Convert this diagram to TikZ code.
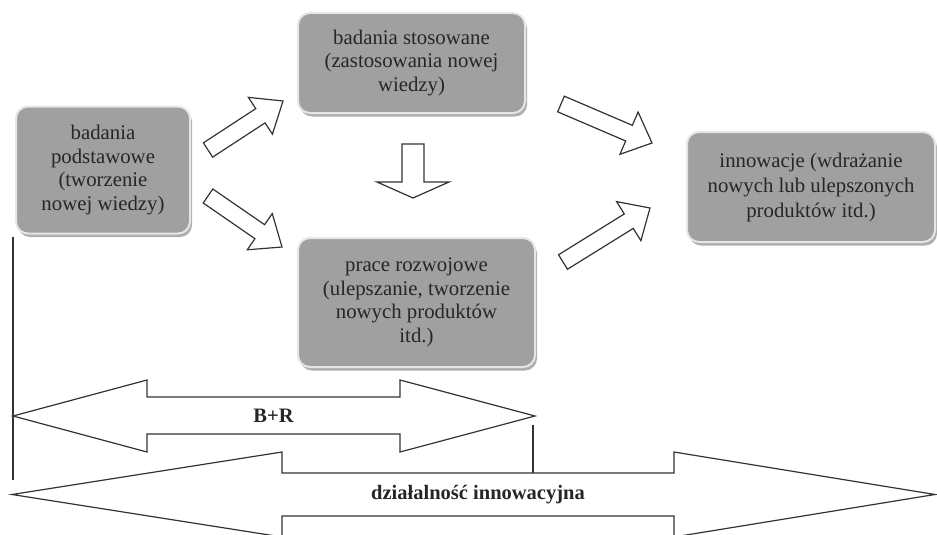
\documentclass[tikz,border=0pt]{standalone}
\usepackage{fontspec}
\setmainfont{Liberation Serif}
\usetikzlibrary{calc,shadows}
\definecolor{boxgray}{HTML}{A0A0A0}
\definecolor{rimgray}{HTML}{E6E6E6}
\definecolor{shadowgray}{HTML}{9A9A9A}
\definecolor{txt}{HTML}{262626}
\definecolor{ln}{HTML}{333333}
\newcommand\blockarrow[5]{% tail, tip, shaft half width, head half width, head length
  \coordinate (ba-c) at ($(#2)!#5!(#1)$);
  \draw[blk] ($(#1)!#3!90:(#2)$) -- ($(ba-c)!#3!90:(#2)$) -- ($(ba-c)!#4!90:(#2)$)
    -- (#2) -- ($(ba-c)!#4!-90:(#2)$) -- ($(ba-c)!#3!-90:(#2)$) -- ($(#1)!#3!-90:(#2)$) -- cycle;}
\begin{document}
\begin{tikzpicture}[x=1pt,y=-1pt,
  box/.style={rounded corners=12pt, fill=boxgray, draw=rimgray, line width=2pt,
    align=center, text=txt, inner sep=0pt,
    drop shadow={shadow xshift=2pt, shadow yshift=-3.5pt, fill=shadowgray, opacity=0.8}},
  boxfont/.style={font=\fontsize{20.8}{23.5}\selectfont},
  blk/.style={draw=ln, line width=1.2pt, fill=white, line join=miter},
  thinline/.style={draw=ln, line width=1.2pt},
  lbl/.style={font=\fontsize{20.5}{22}\selectfont\bfseries, text=txt, inner sep=0pt}]
\useasboundingbox (0,0) rectangle (937,535);

% boxes
\node[box, boxfont, minimum width=174pt, minimum height=127pt] (bp) at (103,170)
  {badania\\podstawowe\\(tworzenie\\nowej wiedzy)};
\node[box, boxfont, minimum width=227pt, minimum height=100pt] (bs) at (411.5,63)
  {badania stosowane\\(zastosowania nowej\\wiedzy)};
\node[box, boxfont, minimum width=237pt, minimum height=129pt] (pr) at (416.5,302.5)
  {prace rozwojowe\\(ulepszanie, tworzenie\\nowych produktów\\itd.)};
\node[box, font=\fontsize{20.8}{25}\selectfont, minimum width=248pt, minimum height=110pt] (in) at (811,187)
  {innowacje (wdrażanie\\nowych lub ulepszonych\\produktów itd.)};

% block arrows between boxes
\coordinate (a1t) at (208,150);  \coordinate (a1h) at (283,101);
\coordinate (a2t) at (208,196);  \coordinate (a2h) at (282,247);
\coordinate (a3t) at (413,144);  \coordinate (a3h) at (413,198);
\coordinate (a4t) at (561,104);  \coordinate (a4h) at (652,143);
\coordinate (a5t) at (563,262);  \coordinate (a5h) at (650,208);
\blockarrow{a1t}{a1h}{8.5pt}{22pt}{27pt}
\blockarrow{a2t}{a2h}{8.5pt}{22pt}{27pt}
\blockarrow{a3t}{a3h}{11pt}{36pt}{16pt}
\blockarrow{a4t}{a4h}{8.5pt}{23pt}{25pt}
\blockarrow{a5t}{a5h}{8.5pt}{23pt}{25pt}

% vertical lines
\coordinate (v1a) at (13,237); \coordinate (v1b) at (13,480);
\coordinate (v2a) at (533,425); \coordinate (v2b) at (533,473);
\draw[thinline] (v1a) -- (v1b);

% B+R double arrow
\draw[blk] (13,416) -- (147,380) -- (147,397) -- (400,397) -- (400,380) -- (535,416)
  -- (400,452) -- (400,434) -- (147,434) -- (147,452) -- cycle;
% innovation double arrow
\draw[blk] (12,494.5) -- (282,452) -- (282,473) -- (674,473) -- (674,452) -- (935,494.5)
  -- (674,537) -- (674,516) -- (282,516) -- (282,537) -- cycle;
\draw[thinline] (v2a) -- (v2b);

\node[lbl] (br) at (273.5,416) {B+R};
\node[lbl] (di) at (478,494.5) {działalność innowacyjna};
\end{tikzpicture}
\end{document}
